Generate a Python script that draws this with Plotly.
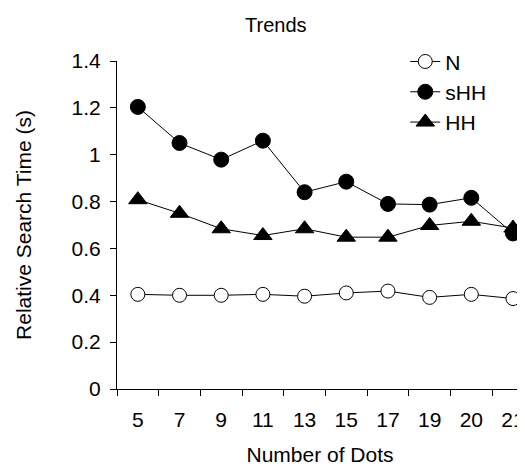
import plotly.graph_objects as go

categories = ["5", "7", "9", "11", "13", "15", "17", "19", "20", "21"]
n_vals = [0.404, 0.400, 0.400, 0.404, 0.396, 0.410, 0.418, 0.391, 0.404, 0.386]
shh_vals = [1.204, 1.050, 0.979, 1.060, 0.840, 0.885, 0.790, 0.787, 0.816, 0.664]
hh_vals = [0.808, 0.750, 0.684, 0.655, 0.684, 0.648, 0.648, 0.698, 0.716, 0.687]

FONT = "Arial, Liberation Sans, sans-serif"

fig = go.Figure()
fig.add_trace(go.Scatter(x=categories, y=n_vals, name="N", mode="lines+markers",
                         line=dict(color="black", width=1),
                         marker=dict(symbol="circle", size=14, color="white",
                                     line=dict(color="black", width=1)),
                         cliponaxis=False))
fig.add_trace(go.Scatter(x=categories, y=shh_vals, name="sHH", mode="lines+markers",
                         line=dict(color="black", width=1),
                         marker=dict(symbol="circle", size=15, color="black",
                                     line=dict(color="black", width=1)),
                         cliponaxis=False))
fig.add_trace(go.Scatter(x=categories, y=hh_vals, name="HH", mode="lines+markers",
                         line=dict(color="black", width=1),
                         marker=dict(symbol="triangle-up", size=16, color="black",
                                     line=dict(color="black", width=1)),
                         cliponaxis=False))

# page body has an 8px margin; size the figure to fit the 525x466 window
fig.update_layout(
    width=517, height=458,
    margin=dict(l=109, r=0, t=53, b=77, pad=0),
    paper_bgcolor="white", plot_bgcolor="white",
    font=dict(family=FONT, size=21, color="black"),
    showlegend=True,
    legend=dict(x=0.71, y=1.06, xanchor="left", yanchor="top",
                bgcolor="rgba(0,0,0,0)", font=dict(size=21, family=FONT),
                tracegroupgap=0, itemwidth=30),
    annotations=[dict(text="Trends", x=(277 - 117) / 408, y=1 + (61 - 25) / 328,
                      xref="paper", yref="paper", xanchor="center", yanchor="middle",
                      showarrow=False, font=dict(size=20, family=FONT))],
)

fig.update_xaxes(type="category", range=[-0.5, 9.24], showline=True, linecolor="black",
                 linewidth=1, ticks="outside", tickson="boundaries", ticklen=6,
                 tickcolor="black", showgrid=False, zeroline=False,
                 ticklabelstandoff=12,
                 title=dict(text="Number of Dots", font=dict(size=21), standoff=18),
                 tickfont=dict(size=21))
fig.update_yaxes(range=[0, 1.4], dtick=0.2, showline=True, linecolor="black",
                 linewidth=1, ticks="outside", ticklen=6, tickcolor="black",
                 showgrid=False, zeroline=False, tickformat="~g",
                 ticklabelstandoff=5,
                 title=dict(text="Relative Search Time (s)", font=dict(size=21), standoff=34),
                 tickfont=dict(size=21))

fig.write_html("out.html")
